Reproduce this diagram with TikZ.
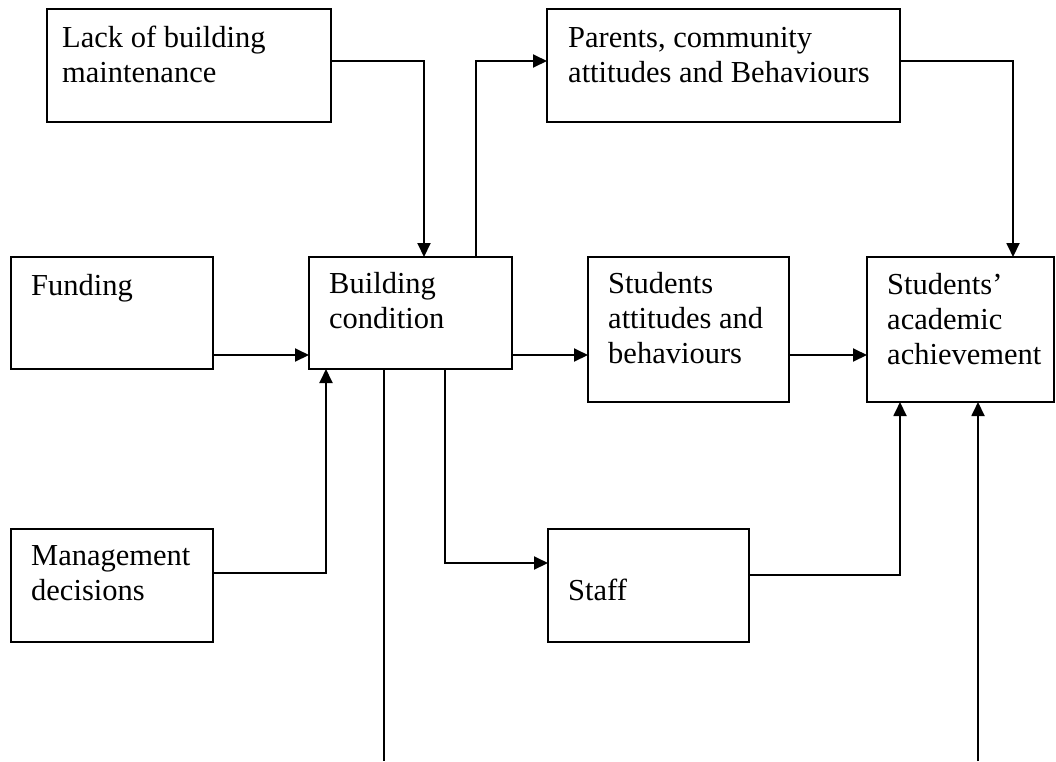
\documentclass[tikz,border=0pt]{standalone}
\usepackage{fontspec}
\setmainfont{Liberation Serif}
\usetikzlibrary{arrows.meta}
\begin{document}
\begin{tikzpicture}[x=1pt,y=-1pt,
  boxnode/.style={draw=black, line width=1.9pt, rectangle, inner sep=0pt, outer sep=0pt, anchor=north west},
  txt/.style={anchor=north west, inner sep=0pt, align=left, font=\fontsize{30.5}{35}\selectfont},
  arr/.style={line width=1.9pt, -{Triangle[length=14pt,width=13pt]}},
  plain/.style={line width=1.9pt}]
\useasboundingbox (0,0) rectangle (1056,761);
% boxes
\node[boxnode, minimum width=284pt, minimum height=113pt] (lack) at (47,9) {};
\node[boxnode, minimum width=353pt, minimum height=113pt] (parents) at (547,9) {};
\node[boxnode, minimum width=202pt, minimum height=112pt] (fund) at (11,257) {};
\node[boxnode, minimum width=203pt, minimum height=112pt] (build) at (309,257) {};
\node[boxnode, minimum width=201pt, minimum height=145pt] (stud) at (588,257) {};
\node[boxnode, minimum width=187pt, minimum height=145pt] (ach) at (867,257) {};
\node[boxnode, minimum width=202pt, minimum height=113pt] (mgmt) at (11,529) {};
\node[boxnode, minimum width=201pt, minimum height=113pt] (staff) at (548,529) {};
% texts
\node[txt] (lackT) at ([shift={(15,13.5)}]lack.north west) {\strut Lack of building\\\strut maintenance};
\node[txt] (parentsT) at ([shift={(21,13.5)}]parents.north west) {\strut Parents, community\\\strut attitudes and Behaviours};
\node[txt] (fundT) at ([shift={(20,13.5)}]fund.north west) {\strut Funding};
\node[txt] (buildT) at ([shift={(20,12)}]build.north west) {\strut Building\\\strut condition};
\node[txt] (studT) at ([shift={(20,12)}]stud.north west) {\strut Students\\\strut attitudes and\\\strut behaviours};
\node[txt] (achT) at ([shift={(20,12.5)}]ach.north west) {\strut Students'\\\strut academic\\\strut achievement};
\node[txt] (mgmtT) at ([shift={(20,11.5)}]mgmt.north west) {\strut Management\\\strut decisions};
\node[txt] (staffT) at ([shift={(20,46.5)}]staff.north west) {\strut Staff};
% free ends
\coordinate (outA) at (384,761);
\coordinate (outB) at (978,761);
% connectors
\draw[arr] (lack.east |- 0,61) -| (build.north -| 424,0);
\draw[arr] (build.north -| 476,0) |- (parents.west |- 0,61);
\draw[arr] (parents.east |- 0,61) -| (ach.north -| 1013,0);
\draw[arr] (fund.east |- 0,355) -- (build.west |- 0,355);
\draw[arr] (build.east |- 0,355) -- (stud.west |- 0,355);
\draw[arr] (stud.east |- 0,355) -- (ach.west |- 0,355);
\draw[arr] (mgmt.east |- 0,573) -| (build.south -| 326,0);
\draw[arr] (build.south -| 445,0) |- (staff.west |- 0,563);
\draw[arr] (staff.east |- 0,575) -| (ach.south -| 900,0);
\draw[plain] (build.south -| outA) -- (outA);
\draw[arr] (outB) -- (ach.south -| outB);
\end{tikzpicture}
\end{document}
